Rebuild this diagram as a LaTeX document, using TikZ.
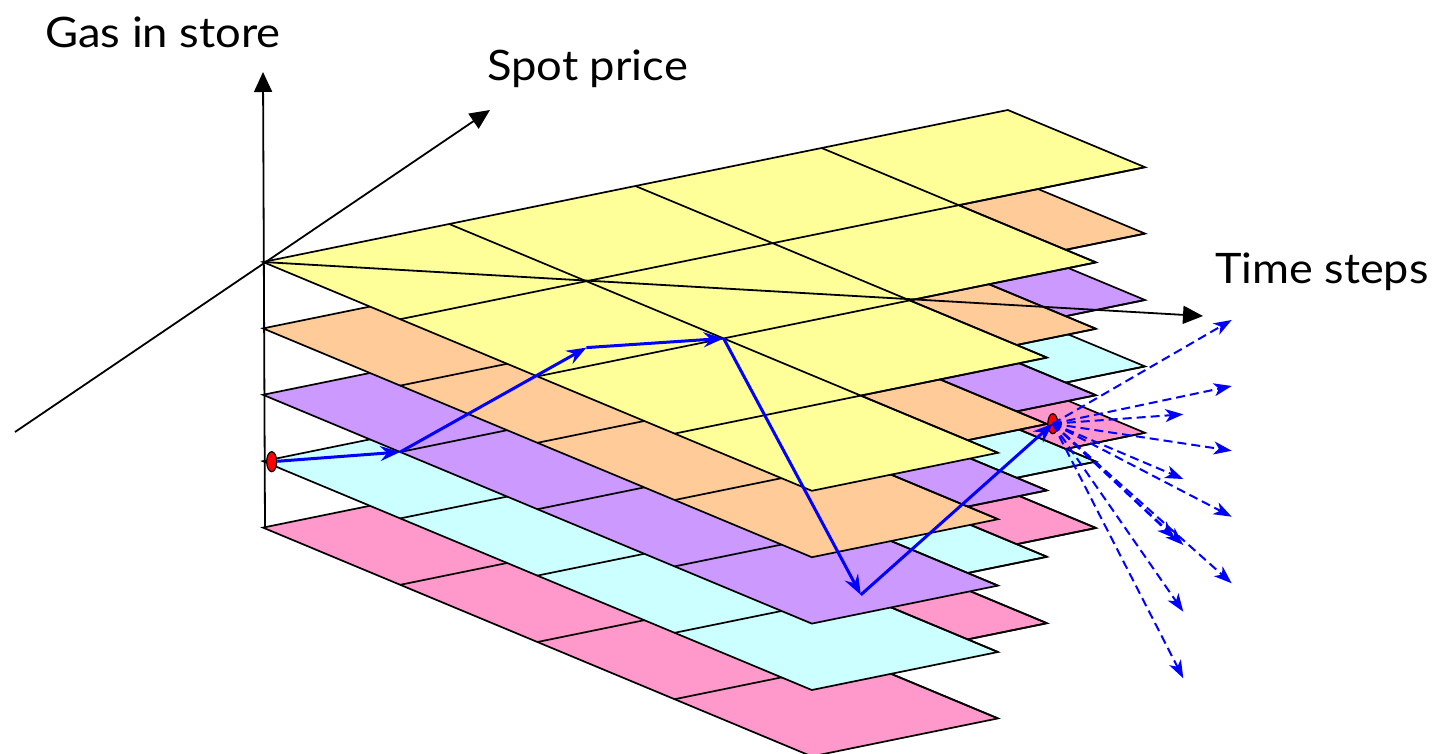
\documentclass[tikz,border=0pt]{standalone}
\usepackage{fontspec}
\setmainfont{Lato}
\usetikzlibrary{arrows.meta,shapes.geometric}
\definecolor{lyellow}{HTML}{FFFF99}
\definecolor{lorange}{HTML}{FFCC99}
\definecolor{lpurple}{HTML}{CC99FF}
\definecolor{lcyan}{HTML}{CCFFFF}
\definecolor{lpink}{HTML}{FF99CC}
\definecolor{pblue}{HTML}{0000FF}
\tikzset{
  gridline/.style={line width=1.7pt, line join=miter, black},
  axisline/.style={line width=1.8pt, black, -{Triangle[length=20pt,width=18pt]}},
  lbl/.style={font=\fontsize{42}{50}\selectfont, inner sep=0pt, anchor=base west},
  bluearrow/.style={pblue, line width=3pt, -{Stealth[length=20pt,width=15pt,inset=7pt]}},
  fan/.style={pblue, line width=2pt, dash pattern=on 9pt off 5pt, -{Stealth[length=18pt,width=13pt,inset=5pt]}},
  reddot/.style={ellipse, draw=black, fill=red, line width=1.2pt, inner sep=0pt, minimum width=10pt, minimum height=20pt}
}
\newcommand\gridlayer[2]{%
  \begin{scope}[shift={(263pt,-262pt)}, yshift=-#1pt, x={(186.2pt,38pt)}, y={(137.2pt,-57.2pt)}]
    \fill[#2] (0,0)--(4,0)--(4,1)--(3,1)--(3,2)--(2,2)--(2,3)--(1,3)--(1,4)--(0,4)--cycle;
    \draw[gridline] (0,1)--(4,1) (0,2)--(3,2) (0,3)--(2,3) (1,0)--(1,4) (2,0)--(2,3) (3,0)--(3,2);
    \draw[gridline] (0,0)--(4,0)--(4,1)--(3,1)--(3,2)--(2,2)--(2,3)--(1,3)--(1,4)--(0,4)--cycle;
  \end{scope}}
\begin{document}
\begin{tikzpicture}[x=1pt, y=-1pt]
  \useasboundingbox (0,0) rectangle (1432,753);
  % layers, bottom to top
  \gridlayer{265.6}{lpink}
  \gridlayer{199.2}{lcyan}
  \gridlayer{132.8}{lpurple}
  \gridlayer{66.4}{lorange}
  \gridlayer{0}{lyellow}
  % axes
  \coordinate (O) at (263,262);
  \coordinate (gasBot) at (265,527.6);
  \coordinate (gasTop) at (263,72);
  \coordinate (spotBot) at (15,432);
  \coordinate (spotTop) at (490,110);
  \coordinate (timeTip) at (1203,316);
  \draw[axisline] (gasBot) -- (gasTop);
  \draw[axisline] (spotBot) -- (spotTop);
  \draw[axisline] (O) -- (timeTip);
  \node[lbl] (gaslbl) at (45,47) {\scalebox{1.08}[1]{Gas in store}};
  \node[lbl] (spotlbl) at (487,80) {\scalebox{1.08}[1]{Spot price}};
  \node[lbl] (timelbl) at (1215,283) {\scalebox{1.07}[1]{Time steps}};
  % path points
  \coordinate (B) at (400.2,452);
  \coordinate (C) at (586.4,347.6);
  \coordinate (D) at (723.6,338.4);
  \coordinate (E) at (860.8,594.8);
  \node[reddot] (dot2) at (1052.8,423.7) {};
  % fan targets
  \coordinate (t1) at (1231.7,320);
  \coordinate (t2) at (1231.7,386);
  \coordinate (t3) at (1183.3,414.3);
  \coordinate (t4) at (1231.7,450.7);
  \coordinate (t5) at (1183.3,479);
  \coordinate (t6) at (1231.7,516.7);
  \coordinate (t7) at (1183.3,545);
  \coordinate (t7b) at (1175,538.5);
  \coordinate (t8) at (1231.7,583.3);
  \coordinate (t9) at (1183.3,611.7);
  \coordinate (t10) at (1183.3,678.3);
  \foreach \t in {t1,t2,t3,t4,t5,t6,t7,t7b,t8,t9,t10}
    \draw[fan] (dot2.center) -- (\t);
  \node[reddot] (dot1) at (271.7,461.7) {};
  \draw[bluearrow] (dot1) -- (B);
  \draw[bluearrow] (B) -- (C);
  \draw[bluearrow] (C) -- (D);
  \draw[bluearrow] (D) -- (E);
  \draw[bluearrow] (E) -- (dot2.center);
\end{tikzpicture}
\end{document}
